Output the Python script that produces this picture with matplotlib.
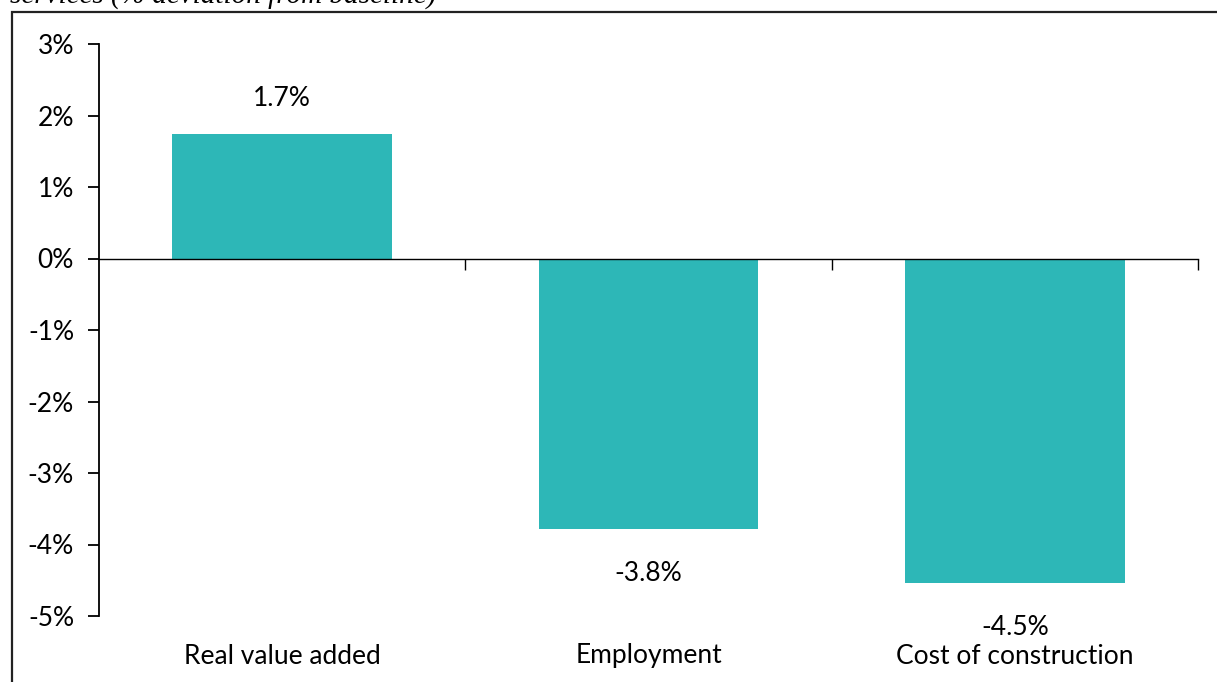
import matplotlib.pyplot as plt
from matplotlib.patches import Rectangle
from matplotlib.ticker import FuncFormatter, FixedLocator

categories = ['Real value added', 'Employment', 'Cost of construction']
values = [1.74, -3.79, -4.54]
value_labels = ['1.7%', '-3.8%', '-4.5%']
title = 'services (% deviation from baseline)'

plt.rcParams['font.family'] = ['Lato', 'DejaVu Sans']

fig = plt.figure(figsize=(12.17, 6.82), dpi=100)
W, H = 1217, 682

# рамка вокруг графика (обрезана справа и снизу)
fig.patches.append(Rectangle((12 / W, -0.1), 1.2, 1 - 12 / H + 0.1,
                             transform=fig.transFigure, fill=False,
                             edgecolor='#222222', linewidth=1.6, clip_on=False))
fig.text(10 / W, 1 - 4 / H, title, family='Liberation Serif', style='italic',
         fontsize=21, va='baseline', ha='left')

ax = fig.add_axes([99 / W, 1 - 616 / H, (1198 - 99) / W, (616 - 44) / H])
x = range(len(categories))
ax.bar(x, values, width=0.6, color='#2DB7B7', zorder=2)

ax.set_xlim(-0.5, 2.5)
ax.set_ylim(-5, 3)
ax.set_yticks(range(-5, 4))
ax.yaxis.set_major_formatter(FuncFormatter(lambda v, _: f'{v:.0f}%'))
ax.tick_params(axis='y', length=8, width=1.3, pad=10, labelsize=19)

for s in ['top', 'right']:
    ax.spines[s].set_visible(False)
ax.spines['left'].set_linewidth(1.3)
ax.spines['bottom'].set_position(('data', 0))
ax.spines['bottom'].set_linewidth(1.0)
ax.xaxis.set_major_locator(FixedLocator([0.5, 1.5, 2.5]))
ax.tick_params(axis='x', direction='out', length=8, width=1.0, labelbottom=False)

trans = ax.get_xaxis_transform()
for i, name in enumerate(categories):
    ax.annotate(name, xy=(i, 0), xycoords=trans, xytext=(0, -40),
                textcoords='offset pixels', ha='center', va='center', fontsize=19)

for i, (v, lab) in enumerate(zip(values, value_labels)):
    off = 36 if v > 0 else -44
    ax.annotate(lab, xy=(i, v), xytext=(0, off), textcoords='offset pixels',
                ha='center', va='center', fontsize=19)

fig.savefig('out.png', dpi=100)
